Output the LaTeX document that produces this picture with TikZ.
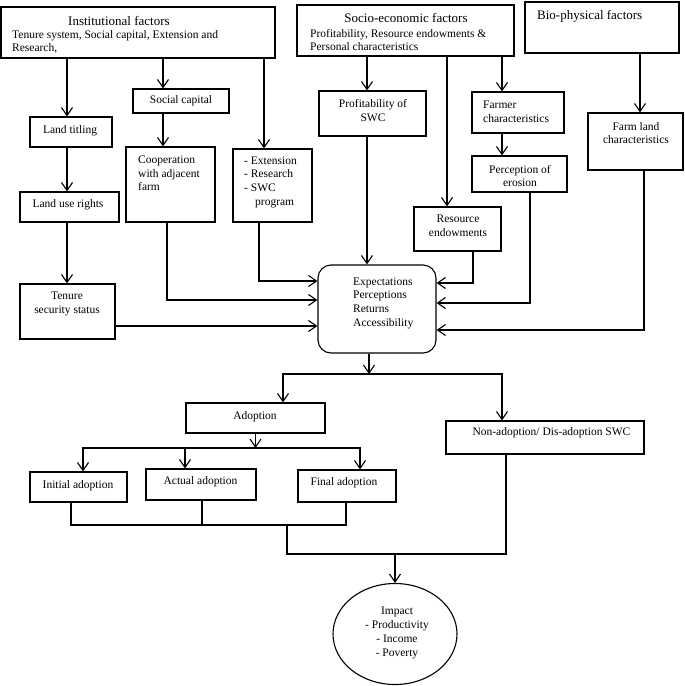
\documentclass[tikz,border=0pt]{standalone}
\usepackage{fontspec}
\setmainfont{Liberation Serif}
\usetikzlibrary{arrows.meta,shapes.geometric}
\begin{document}
\begin{tikzpicture}[x=1pt,y=-1pt,
 box/.style={draw, rectangle, line width=1.1pt, inner sep=0pt},
 lbl/.style={inner sep=0pt, font=\fontsize{11.5}{13.7}\selectfont},
 ttl/.style={inner sep=0pt, font=\fontsize{13}{15}\selectfont},
 arr/.style={line width=1.1pt, -{Straight Barb[length=8pt,width=11pt]}},
 ln/.style={line width=1.1pt}]
\useasboundingbox (0,0) rectangle (685,686);

% ---- boxes ----
\node[box, minimum width=274pt, minimum height=51pt] (inst) at (138,32.5) {};
\node[box, minimum width=217pt, minimum height=51pt] (socio) at (405.5,30.5) {};
\node[box, minimum width=154pt, minimum height=51pt] (bio) at (602,27.5) {};
\node[box, minimum width=96pt, minimum height=24pt] (socialcap) at (181,101) {};
\node[box, minimum width=82pt, minimum height=30pt] (landtitling) at (71,132) {};
\node[box, minimum width=89pt, minimum height=75pt] (coop) at (170.5,184.5) {};
\node[box, minimum width=79pt, minimum height=73pt] (ext) at (272.5,185.5) {};
\node[box, minimum width=99pt, minimum height=30pt] (landuse) at (69.5,207) {};
\node[box, minimum width=95pt, minimum height=55pt] (tenure) at (67.5,311.5) {};
\node[box, minimum width=107pt, minimum height=45pt] (profit) at (372.5,113.5) {};
\node[box, minimum width=92pt, minimum height=41pt] (farmer) at (518,112.5) {};
\node[box, minimum width=95pt, minimum height=57pt] (farmland) at (635.5,141.5) {};
\node[box, minimum width=95pt, minimum height=36pt] (percep) at (519.5,174) {};
\node[box, minimum width=87pt, minimum height=44pt] (resource) at (457.5,229) {};
\node[box, rounded corners=13pt, minimum width=118pt, minimum height=88pt] (central) at (377,309) {};
\node[box, minimum width=139pt, minimum height=30pt] (adoption) at (255.5,418) {};
\node[box, minimum width=198pt, minimum height=33pt] (nonad) at (545,437.5) {};
\node[box, minimum width=97pt, minimum height=30pt] (initial) at (78.5,487) {};
\node[box, minimum width=110pt, minimum height=31pt] (actual) at (201,484.5) {};
\node[box, minimum width=98pt, minimum height=32pt] (final) at (347,486) {};
\node[draw, ellipse, line width=1.1pt, inner sep=0pt, minimum width=124pt, minimum height=101pt] (impact) at (395,634) {};

% ---- texts ----
\node[ttl, anchor=west] at (68,21) {Institutional factors};
\node[lbl, anchor=west, align=left] at (12,42) {Tenure system, Social capital, Extension and\\Research,};
\node[ttl] at (406,18) {Socio-economic factors};
\node[lbl, anchor=west, align=left] at (310,40) {Profitability, Resource endowments \&\\Personal characteristics};
\node[ttl, anchor=west] at (537,16) {Bio-physical factors};
\node[lbl] at (181,101) {Social capital};
\node[lbl] at (70,131) {Land titling};
\node[lbl] at (68,205) {Land use rights};
\node[lbl, align=center] at (67,304) {Tenure\\security status};
\node[lbl, anchor=west, align=left] at (138,173.5) {Cooperation\\with adjacent\\farm};
\node[lbl, anchor=west, align=left] at (244,182) {- Extension\\- Research\\- SWC\\\hspace*{11pt}program};
\node[lbl, align=center] at (373,110.5) {Profitability of\\SWC};
\node[lbl, anchor=west, align=left] at (483,112) {Farmer\\characteristics};
\node[lbl, align=center] at (636,133) {Farm land\\characteristics};
\node[lbl, align=center] at (520,176) {Perception of\\erosion};
\node[lbl, align=center] at (458,226) {Resource\\endowments};
\node[lbl, anchor=west, align=left] at (353,303) {Expectations\\Perceptions\\Returns\\Accessibility};
\node[lbl] at (255,417) {Adoption};
\node[lbl] at (551.5,433) {Non-adoption/ Dis-adoption SWC};
\node[lbl] at (78,486) {Initial adoption};
\node[lbl] at (200.5,482) {Actual adoption};
\node[lbl] at (344,483) {Final adoption};
\node[lbl, align=center] at (397,633) {Impact\\- Productivity\\- Income\\- Poverty};

% ---- junctions ----
\coordinate (j1) at (369,374);
\coordinate (j2) at (256,448);
\coordinate (j3) at (287,525);
\coordinate (j4) at (287,554);

% ---- connectors: institutional ----
\draw[arr] ([xshift=-4pt]landtitling.north |- inst.south) -- ([xshift=-4pt]landtitling.north);
\draw[arr] ([xshift=-18pt]socialcap.north |- inst.south) -- ([xshift=-18pt]socialcap.north);
\draw[arr] ([xshift=-8.5pt]ext.north |- inst.south) -- ([xshift=-8.5pt]ext.north);
\draw[arr] ([xshift=-4pt]landtitling.south) -- ([xshift=-4pt]landtitling.south |- landuse.north);
\draw[arr] ([xshift=-2.5pt]landuse.south) -- ([xshift=-2.5pt]landuse.south |- tenure.north);
\draw[arr] ([xshift=-18pt]socialcap.south) -- ([xshift=-18pt]socialcap.south |- coop.north);
\draw[arr] ([yshift=-14.5pt]tenure.east) -- ([yshift=-14.5pt]tenure.east -| central.west);
\draw[arr] ([xshift=-3.5pt]coop.south) |- ([yshift=9pt]central.west);
\draw[arr] ([xshift=-13.5pt]ext.south) |- ([yshift=28pt]central.west);

% ---- connectors: socio-economic ----
\draw[arr] ([xshift=-5.5pt]profit.north |- socio.south) -- ([xshift=-5.5pt]profit.north);
\draw[arr] ([xshift=-5.5pt]profit.south) -- ([xshift=-5.5pt]profit.south |- central.north);
\draw[arr] ([xshift=-10.5pt]resource.north |- socio.south) -- ([xshift=-10.5pt]resource.north);
\draw[arr] ([xshift=-16pt]farmer.north |- socio.south) -- ([xshift=-16pt]farmer.north);
\draw[arr] ([xshift=-16pt]farmer.south) -- ([xshift=-16pt]farmer.south |- percep.north);
\draw[arr] ([xshift=15.5pt]resource.south) |- ([yshift=26pt]central.east);
\draw[arr] ([xshift=10.5pt]percep.south) |- ([yshift=6pt]central.east);

% ---- connectors: bio-physical ----
\draw[arr] ([xshift=4.5pt]farmland.north |- bio.south) -- ([xshift=4.5pt]farmland.north);
\draw[arr] ([xshift=8.5pt]farmland.south) |- ([yshift=-21pt]central.east);

% ---- lower part ----
\draw[arr] ([xshift=-8pt]central.south) -- ([xshift=-8pt]central.south |- j1);
\draw[arr] (j1) -| ([xshift=27.5pt]adoption.north);
\draw[arr] (j1) -| ([xshift=-43pt]nonad.north);
\draw[arr] (adoption.south) -- (adoption.south |- j2);
\draw[arr] (j2) -| ([xshift=4.5pt]initial.north);
\draw[arr] (j2) -| ([xshift=-16pt]actual.north);
\draw[arr] (j2) -| ([xshift=13pt]final.north);
\draw[ln] ([xshift=-7.5pt]initial.south) |- ([xshift=-1pt]final.south |- j3) -- ([xshift=-1pt]final.south);
\draw[ln] ([xshift=1pt]actual.south) -- ([xshift=1pt]actual.south |- j3);
\draw[ln] (j3) -- (j4) -| ([xshift=-39pt]nonad.south);
\draw[arr] (impact.north |- j4) -- (impact.north);
\end{tikzpicture}
\end{document}
